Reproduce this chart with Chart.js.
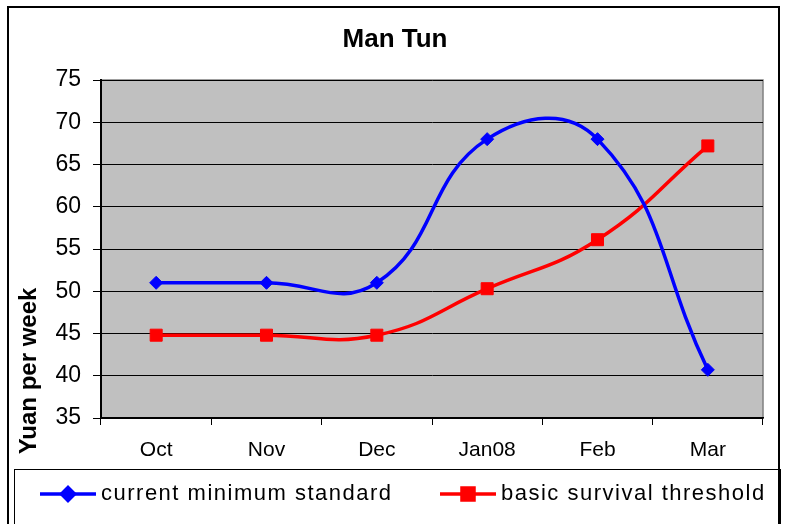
<!DOCTYPE html>
<html>
<head>
<meta charset="utf-8">
<script src="https://cdn.jsdelivr.net/npm/chart.js@4"></script>
<style>
  html, body { margin: 0; padding: 0; background: #fff; }
  #wrap { width: 785px; height: 524px; position: relative; }
</style>
</head>
<body>
<div id="wrap"><canvas id="chart" width="785" height="524"></canvas></div>
<script>
// data
const months = ['Oct', 'Nov', 'Dec', 'Jan08', 'Feb', 'Mar'];
const currentMinimum = [51, 51, 51, 68, 68, 40.7];
const survivalThreshold = [44.8, 44.8, 44.8, 50.3, 56.1, 67.2];
const seriesNames = ['current minimum standard', 'basic survival threshold'];
const chartTitle = 'Man Tun';
const yTitle = 'Yuan per week';

const FONT = '"Liberation Sans", Arial, sans-serif';

// borders, plot background, title, y title and legend box
const frame = {
  id: 'frame',
  beforeDraw(chart) {
    const { ctx, chartArea: a } = chart;
    ctx.save();
    ctx.fillStyle = '#fff';
    ctx.fillRect(0, 0, chart.width, chart.height);
    // outer border
    ctx.strokeStyle = '#000';
    ctx.lineWidth = 2;
    ctx.strokeRect(8, 7, 771, 540);
    // plot area
    ctx.fillStyle = '#c0c0c0';
    ctx.fillRect(a.left, a.top, a.right - a.left, a.bottom - a.top);
    ctx.strokeStyle = '#808080';
    ctx.lineWidth = 1.5;
    ctx.strokeRect(a.left, a.top, a.right - a.left, a.bottom - a.top);
    // title
    ctx.fillStyle = '#000';
    ctx.font = 'bold 26px ' + FONT;
    ctx.textAlign = 'center';
    ctx.textBaseline = 'middle';
    ctx.fillText(chartTitle, 395, 40);
    // y title
    ctx.translate(29, 371);
    ctx.rotate(-Math.PI / 2);
    ctx.font = 'bold 24px ' + FONT;
    ctx.fillText(yTitle, 0, 0);
    ctx.restore();
  },
  afterDraw(chart) {
    const { ctx } = chart;
    ctx.save();
    // legend box
    ctx.strokeStyle = '#000';
    ctx.lineWidth = 1;
    ctx.strokeRect(14.5, 469.5, 766, 80);
    const items = [
      { x: 40, color: '#0000ff', style: 'rectRot', r: 6.5, text: seriesNames[0] },
      { x: 440, color: '#ff0000', style: 'rect', r: 8.5, text: seriesNames[1] }
    ];
    const y = 494;
    items.forEach(it => {
      ctx.strokeStyle = it.color;
      ctx.lineWidth = 3.5;
      ctx.beginPath();
      ctx.moveTo(it.x, y);
      ctx.lineTo(it.x + 56, y);
      ctx.stroke();
      ctx.fillStyle = it.color;
      Chart.helpers.drawPoint(ctx, { pointStyle: it.style, radius: it.r, borderWidth: 1 }, it.x + 28, y);
      ctx.fillStyle = '#000';
      ctx.font = '22px ' + FONT;
      ctx.letterSpacing = '1.5px';
      ctx.textAlign = 'left';
      ctx.textBaseline = 'middle';
      ctx.fillText(it.text, it.x + 61, y);
      ctx.letterSpacing = '0px';
    });
    ctx.restore();
  }
};

new Chart(document.getElementById('chart'), {
  type: 'line',
  data: {
    labels: months,
    datasets: [
      {
        label: seriesNames[0],
        data: currentMinimum,
        borderColor: '#0000ff',
        backgroundColor: '#0000ff',
        borderWidth: 3.5,
        pointStyle: 'rectRot',
        pointRadius: 6.5,
        pointBorderWidth: 1,
        tension: 0.45
      },
      {
        label: seriesNames[1],
        data: survivalThreshold,
        borderColor: '#ff0000',
        backgroundColor: '#ff0000',
        borderWidth: 3.5,
        pointStyle: 'rect',
        pointRadius: 8.5,
        pointBorderWidth: 1,
        tension: 0.45
      }
    ]
  },
  options: {
    responsive: false,
    animation: false,
    layout: { padding: { top: 80, right: 22, left: 0, bottom: 0 } },
    plugins: {
      legend: { display: false },
      title: { display: false },
      tooltip: { enabled: false }
    },
    scales: {
      x: {
        offset: true,
        grid: { offset: true, drawOnChartArea: false, color: '#000', tickLength: 7 },
        border: { color: '#000', width: 1.5 },
        ticks: { color: '#000', font: { family: FONT, size: 21 }, padding: 13, maxRotation: 0 },
        afterFit(scale) { scale.height = 106; }
      },
      y: {
        min: 35,
        max: 75,
        ticks: { stepSize: 5, color: '#000', font: { family: FONT, size: 23 }, padding: 12, autoSkip: false },
        grid: { color: '#000', lineWidth: 1, tickLength: 8 },
        border: { color: '#000', width: 2 },
        afterFit(scale) { scale.width = 101; }
      }
    }
  },
  plugins: [frame]
});
</script>
</body>
</html>
